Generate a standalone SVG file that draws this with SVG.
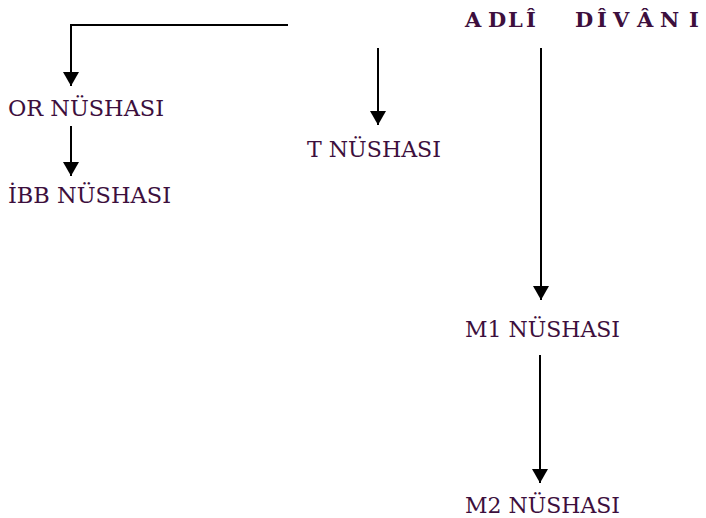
<svg xmlns="http://www.w3.org/2000/svg" width="706" height="518" viewBox="0 0 706 518">
<style>
.lbl{font-family:"DejaVu Serif","Liberation Serif",serif;font-size:22px;fill:#3d0f3d}
.ttl{font-family:"DejaVu Serif","Liberation Serif",serif;font-size:21px;font-weight:bold;fill:#3d0f3d}
.c{stroke:#000;stroke-width:2;fill:none}
</style>
<defs>
<marker id="ah" markerUnits="userSpaceOnUse" markerWidth="18" markerHeight="18" refX="14" refY="8" orient="auto">
<path d="M0,0 L14,8 L0,16 Z" fill="#000"/>
</marker>
</defs>
<g id="connectors">
<path class="c" d="M288,25 H71 V86" marker-end="url(#ah)"/>
<path class="c" d="M71,126 V176" marker-end="url(#ah)"/>
<path class="c" d="M378,48 V125" marker-end="url(#ah)"/>
<path class="c" d="M541,48 V300" marker-end="url(#ah)"/>
<path class="c" d="M540,355 V483" marker-end="url(#ah)"/>
</g>
<g id="adli-divani"><text class="ttl" x="465 488 508 526 560 575 597 613 637 660 689" y="27">ADLÎ DÎVÂNI</text></g>
<g id="or"><text class="lbl" x="8" y="116" textLength="156" lengthAdjust="spacingAndGlyphs">OR NÜSHASI</text></g>
<g id="ibb"><text class="lbl" x="8" y="203" textLength="163" lengthAdjust="spacingAndGlyphs">İBB NÜSHASI</text></g>
<g id="t"><text class="lbl" x="307" y="157" textLength="134" lengthAdjust="spacingAndGlyphs">T NÜSHASI</text></g>
<g id="m1"><text class="lbl" x="465" y="337" textLength="155" lengthAdjust="spacingAndGlyphs">M1 NÜSHASI</text></g>
<g id="m2"><text class="lbl" x="465" y="513" textLength="155" lengthAdjust="spacingAndGlyphs">M2 NÜSHASI</text></g>
</svg>
